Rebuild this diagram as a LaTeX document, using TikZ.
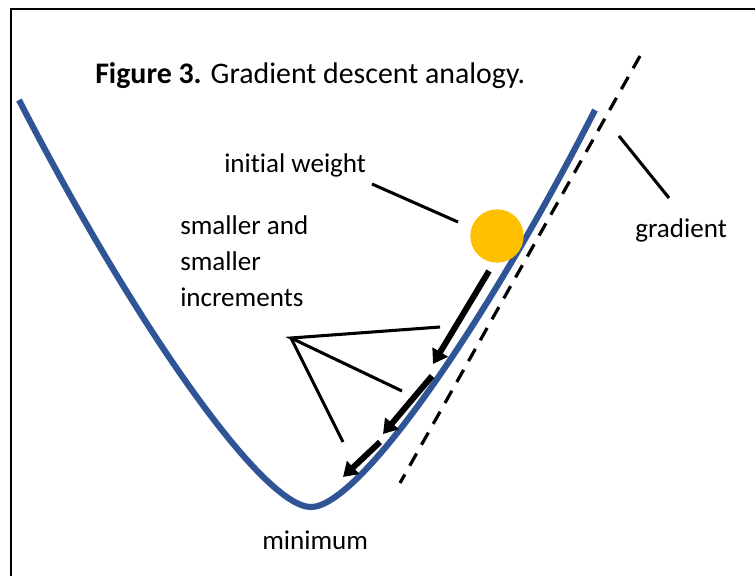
\documentclass[tikz,border=0pt]{standalone}
\usepackage{fontspec}
\setmainfont[Ligatures={NoCommon,NoRare,NoContextual}]{Carlito}
\usetikzlibrary{arrows.meta}
\definecolor{curveblue}{HTML}{2F5597}
\definecolor{ballgold}{HTML}{FFC000}
\tikzset{
  lbl/.style={anchor=base west, inner sep=0pt, font=\fontsize{20.3pt}{24pt}\selectfont},
  pointer/.style={line width=2.3pt, black},
  steparrow/.style={line width=4.5pt, black, -{Triangle[length=10.5pt,width=13pt]}},
}
\begin{document}
\begin{tikzpicture}[x=0.75pt,y=-0.75pt]
\useasboundingbox (0,0) rectangle (755,575);
% frame
\draw[line width=1.5pt] (11,590) -- (11,9) -- (770,9);
% title
\node[lbl, font=\fontsize{22.4pt}{26pt}\selectfont] (title) at (95,83) {\textbf{Figure 3.} Gradient descent analogy.};
% curve
\coordinate (cL) at (19,100);
\coordinate (cM) at (311,507);
\coordinate (cR) at (595,110);
\draw[curveblue, line width=4.6pt]
  (cL) .. controls (132,320) and (262,507) .. (cM)
       .. controls (360,507) and (488,320) .. (cR);
% gradient dashed line
\coordinate (gtop) at (640,56);
\coordinate (gbot) at (400,483);
\draw[line width=2.4pt, dash pattern=on 10.5pt off 7.5pt] (gtop) -- (gbot);
% ball
\node[circle, fill=ballgold, minimum size=40pt, inner sep=0pt] (ball) at (497,236) {};
% labels
\node[lbl] (iw) at (224,172) {initial weight};
\node[lbl] (sm1) at (180,234) {smaller and};
\node[lbl] (sm2) at (180,270) {smaller};
\node[lbl] (sm3) at (180,306) {increments};
\node[lbl] (grad) at (635,237) {gradient};
\node[lbl] (mini) at (262,549) {minimum};
% pointer lines
\coordinate (iwA) at (372,184);
\coordinate (iwB) at (458,222);
\draw[pointer] (iwA) -- (iwB);
\coordinate (grA) at (619,136);
\coordinate (grB) at (669,198);
\draw[pointer] (grA) -- (grB);
\coordinate (hub) at (291,338);
\coordinate (h1) at (440,327);
\coordinate (h2) at (402,391);
\coordinate (h3) at (343,442);
\draw[pointer, line join=miter] (h1) -- (hub) -- (h2);
\draw[pointer] (hub) -- (h3);
% arrows
\coordinate (a1s) at (489,271);
\coordinate (a1e) at (433,364);
\coordinate (a2s) at (432,376);
\coordinate (a2e) at (383,434);
\coordinate (a3s) at (380,442);
\coordinate (a3e) at (343,477);
\draw[steparrow] (a1s) -- (a1e);
\draw[steparrow] (a2s) -- (a2e);
\draw[steparrow] (a3s) -- (a3e);
\end{tikzpicture}
\end{document}
